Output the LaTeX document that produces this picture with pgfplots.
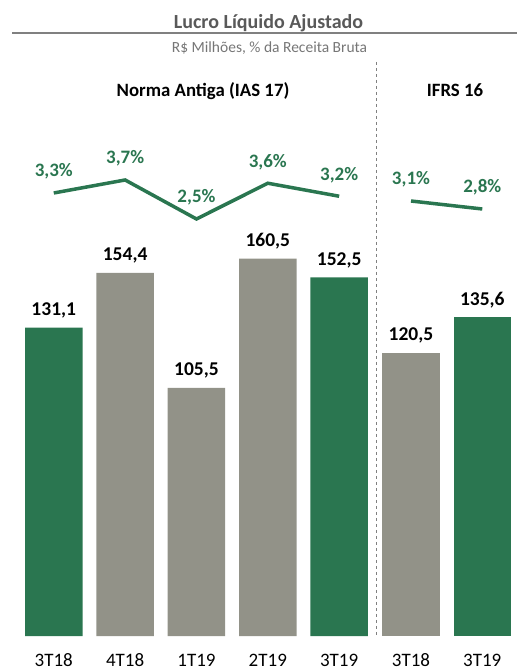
\documentclass[border=0pt]{standalone}
\usepackage{pgfplots}
\pgfplotsset{compat=1.18}
\usepackage{fontspec}
\setmainfont{Carlito}
\definecolor{verde}{RGB}{42,118,80}
\definecolor{cinza}{RGB}{146,146,136}
\definecolor{titgray}{RGB}{89,89,89}
\definecolor{subgray}{RGB}{118,118,118}

\begin{document}
\begin{tikzpicture}[x=1pt,y=1pt]
\path[use as bounding box] (0,0) rectangle (517,670);
\pgfplotsset{
  barax/.style={
    scale only axis, anchor=south west, height=517.4pt,
    ymin=0, ymax=220, axis line style={draw=none}, major tick length=0pt,
    ytick=\empty, clip=false, ybar, bar width=57.5pt,
    tick label style={font=\fontsize{19}{19}\selectfont, text=black},
    xticklabel style={anchor=base, yshift=-30pt},
    nodes near coords,
    every node near coord/.append style={font=\fontsize{19.5}{20}\selectfont\bfseries,
      text=black, anchor=base, yshift=12pt},
    /pgf/number format/.cd, fixed, fixed zerofill, precision=1, use comma,
    assume math mode=true},
  lineax/.style={
    scale only axis, anchor=south west, height=517.4pt, hide axis, clip=false,
    nodes near coords, point meta=explicit symbolic,
    every node near coord/.append style={font=\fontsize{19}{20}\selectfont\bfseries,
      text=verde, anchor=base, yshift=16pt}},
}
% Norma Antiga (IAS 17)
\begin{axis}[barax, at={(18.1pt,34pt)}, width=356.75pt, xmin=-0.5, xmax=4.5,
             xtick={0,1,2,3,4}, xticklabels={3T18,4T18,1T19,2T19,3T19}]
  \addplot[fill=verde, draw=none, bar shift=0pt] coordinates {(0,131.1) (4,152.5)};
  \addplot[fill=cinza, draw=none, bar shift=0pt] coordinates {(1,154.4) (2,105.5) (3,160.5)};
\end{axis}
\begin{axis}[lineax, at={(18.1pt,34pt)}, width=356.75pt, xmin=-0.5, xmax=4.5,
             ymin=-10.331, ymax=5.589]
  \addplot[verde, line width=3.5pt, mark=none] coordinates {
    (0,3.3) [3,3\%] (1,3.7) [3,7\%] (2,2.5) [2,5\%] (3,3.6) [3,6\%] (4,3.2) [3,2\%]};
\end{axis}
% IFRS 16
\begin{axis}[barax, at={(375.35pt,34pt)}, width=142.6pt, xmin=-0.5, xmax=1.5,
             xtick={0,1}, xticklabels={3T18,3T19}]
  \addplot[fill=cinza, draw=none, bar shift=0pt] coordinates {(0,120.5)};
  \addplot[fill=verde, draw=none, bar shift=0pt] coordinates {(1,135.6)};
\end{axis}
\begin{axis}[lineax, at={(375.35pt,34pt)}, width=142.6pt, xmin=-0.5, xmax=1.5,
             ymin=-13.212, ymax=6.190]
  \addplot[verde, line width=3.5pt, mark=none] coordinates {
    (0,3.1) [3,1\%] (1,2.8) [2,8\%]};
\end{axis}
% titulos
\node[font=\fontsize{20}{20}\selectfont\bfseries, text=titgray, anchor=base]
  at (268.5,641.7) {Lucro Líquido Ajustado};
\draw[gray, line width=1.2pt] (12,637) -- (517,637);
\node[font=\fontsize{15.5}{16}\selectfont, text=subgray, anchor=base]
  at (269.5,617.3) {R\$ Milhões, \% da Receita Bruta};
\node[font=\fontsize{18.8}{19}\selectfont\bfseries, anchor=base] at (203,573.3) {Norma Antiga (IAS 17)};
\node[font=\fontsize{18.8}{19}\selectfont\bfseries, anchor=base] at (455,573.3) {IFRS 16};
\draw[gray, dash pattern=on 3pt off 3pt, line width=0.8pt] (376.7,608) -- (376.7,34);
\end{tikzpicture}
\end{document}
